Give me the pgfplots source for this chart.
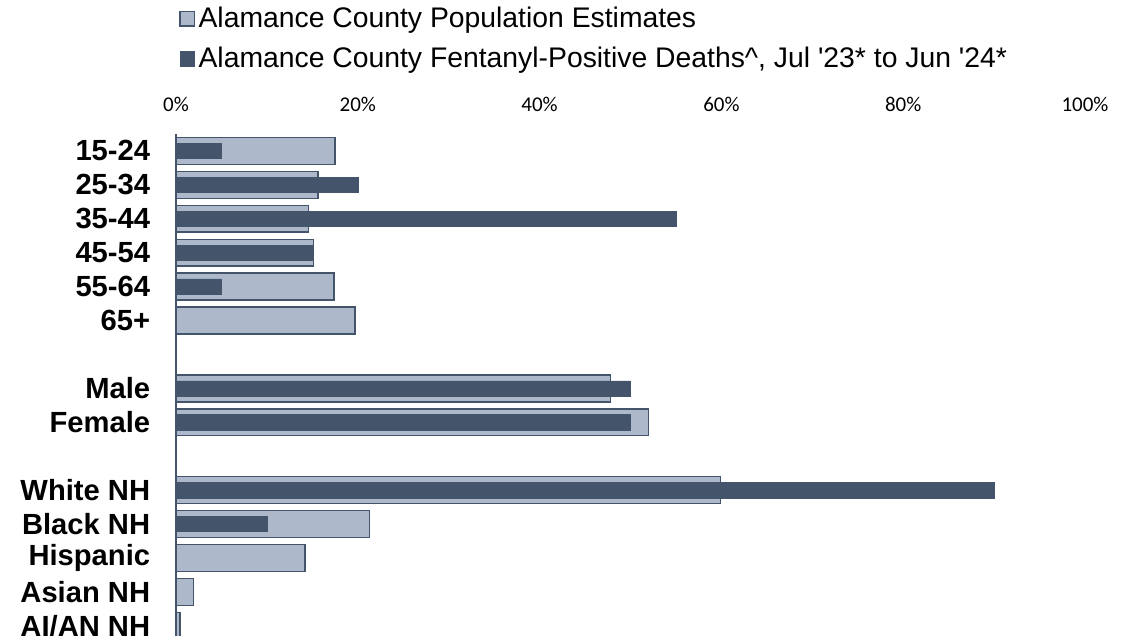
\documentclass[border=0pt]{standalone}
\usepackage{fontspec}
\setmainfont{Liberation Sans}
\newfontfamily\calibri{Carlito}
\usepackage{pgfplots}
\pgfplotsset{compat=1.18}
\definecolor{popfill}{HTML}{ADB9CA}
\definecolor{slate}{HTML}{44546A}

% 1 px of the reference = 0.6pt
\begin{document}
\begin{tikzpicture}
\begin{axis}[
  at={(105.6pt,0pt)}, anchor=south west,
  scale only axis, width=545.4pt, height=301.2pt,
  xbar, bar shift=0pt,
  xmin=0, xmax=100,
  ymin=-14.3, ymax=0.5,
  axis x line*=top, axis y line*=left,
  x axis line style={draw=none},
  y axis line style={draw=slate, line width=1pt, -},
  major tick length=0pt,
  /pgf/number format/assume math mode=true,
  xtick={0,20,40,60,80,100},
  xticklabel={\pgfmathprintnumber{\tick}\%},
  xticklabel style={font=\calibri\fontsize{12.6}{14}\selectfont, yshift=10pt},
  ytick={0,-1,-2,-3,-4,-5,-7,-8,-10,-11,-12,-13,-14},
  yticklabels={15-24,25-34,35-44,45-54,55-64,65+,Male,Female,White NH,Black NH,Hispanic,Asian NH,AI/AN NH},
  yticklabel style={font=\bfseries\fontsize{17.5}{19}\selectfont, xshift=-12pt},
  legend style={at={(0.003,1.26)}, anchor=north west, draw=none, fill=none,
    font=\fontsize{17}{19}\selectfont, legend cell align=left,
    row sep=6.3pt, inner sep=0pt},
  legend image code/.code={\draw[#1] (0pt,-4.4pt) rectangle (8.8pt,4.4pt);},
]
% population share
\addplot[fill=popfill, draw=slate, line width=0.9pt, bar width=0.79] coordinates {
  (17.5,0) (15.6,-1) (14.6,-2) (15.1,-3) (17.4,-4) (19.7,-5)
  (47.8,-7) (52.0,-8)
  (59.9,-10) (21.3,-11) (14.2,-12) (1.9,-13) (0.44,-14)
};
% fentanyl-positive deaths
\addplot[fill=slate, draw=slate, line width=0.3pt, bar width=0.45] coordinates {
  (5,0) (20,-1) (55,-2) (15,-3) (5,-4) (0,-5)
  (50,-7) (50,-8)
  (90,-10) (10,-11) (0,-12) (0,-13) (0,-14)
};
\legend{Alamance County Population Estimates,
  {Alamance County Fentanyl-Positive Deaths\^{}, Jul \textquotesingle 23* to Jun \textquotesingle 24*}}
\end{axis}
\pgfresetboundingbox
\path (0pt,0pt) rectangle (679.8pt,381.6pt);
\end{tikzpicture}
\end{document}
